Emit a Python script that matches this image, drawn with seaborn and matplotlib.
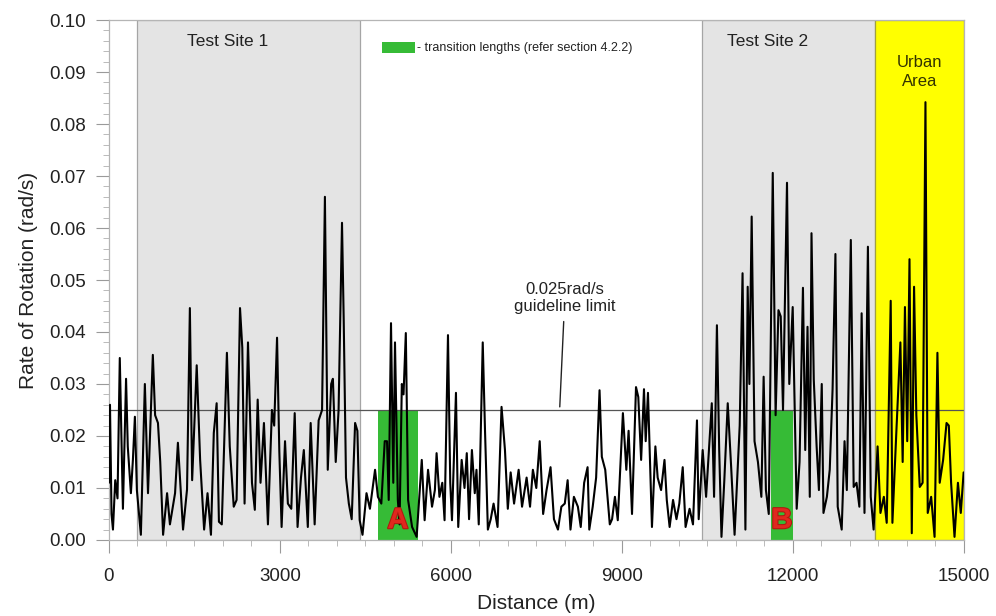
import matplotlib
matplotlib.use("Agg")
import matplotlib.pyplot as plt
import seaborn as sns
import pandas as pd
from matplotlib.patches import Rectangle
from matplotlib.ticker import MultipleLocator, FormatStrFormatter
import matplotlib.patheffects as pe

# ---------------- data ----------------
distance = [0, 18, 45, 70, 110, 150, 190, 245, 300, 330, 385, 420, 455, 490, 560, 630, 685, 770, 810, 860,
            900, 950, 1020, 1070, 1160, 1210, 1300, 1370, 1420, 1460, 1540, 1600, 1670, 1730, 1790, 1840, 1890, 1930, 1980, 2070,
            2120, 2190, 2240, 2300, 2340, 2380, 2440, 2510, 2560, 2610, 2660, 2720, 2790, 2860, 2900, 2950, 2990, 3030, 3090, 3140,
            3200, 3260, 3310, 3370, 3420, 3490, 3540, 3610, 3680, 3740, 3790, 3840, 3900, 3930, 3980, 4030, 4090, 4120, 4160, 4210,
            4260, 4320, 4360, 4400, 4450, 4520, 4580, 4670, 4720, 4780, 4840, 4880, 4910, 4950, 4990, 5020, 5070, 5100, 5140, 5170,
            5210, 5250, 5320, 5400, 5490, 5540, 5600, 5670, 5720, 5750, 5800, 5850, 5890, 5950, 5990, 6020, 6090, 6130, 6190, 6240,
            6280, 6320, 6370, 6420, 6450, 6490, 6560, 6600, 6650, 6700, 6750, 6820, 6890, 6950, 7000, 7050, 7110, 7190, 7250, 7330,
            7390, 7440, 7500, 7560, 7620, 7680, 7750, 7810, 7880, 7940, 8000, 8050, 8100, 8160, 8230, 8280, 8340, 8400, 8430, 8490,
            8550, 8610, 8650, 8710, 8790, 8830, 8880, 8930, 9020, 9080, 9120, 9180, 9250, 9290, 9340, 9390, 9420, 9460, 9530, 9590,
            9630, 9690, 9750, 9790, 9840, 9900, 9960, 10010, 10070, 10120, 10190, 10250, 10320, 10350, 10420, 10480, 10580, 10620, 10670, 10710,
            10750, 10800, 10860, 10920, 10980, 11070, 11120, 11170, 11210, 11240, 11280, 11330, 11390, 11450, 11490, 11530, 11580, 11650, 11700, 11750,
            11790, 11830, 11900, 11940, 12000, 12070, 12120, 12180, 12220, 12260, 12300, 12330, 12370, 12420, 12460, 12510, 12540, 12600, 12650, 12700,
            12750, 12790, 12860, 12910, 12950, 13020, 13070, 13120, 13170, 13210, 13260, 13320, 13370, 13420, 13490, 13540, 13600, 13650, 13720, 13750,
            13820, 13890, 13930, 13970, 14010, 14050, 14090, 14130, 14170, 14230, 14280, 14330, 14370, 14430, 14490, 14540, 14580, 14640, 14700, 14740,
            14780, 14840, 14900, 14950, 15000]
rate = [0.011, 0.026, 0.005, 0.002, 0.0115, 0.008, 0.035, 0.006, 0.031, 0.018, 0.009, 0.0154, 0.0237, 0.0096, 0.001, 0.030, 0.009, 0.0356, 0.024, 0.0225,
        0.015, 0.001, 0.009, 0.003, 0.009, 0.0187, 0.002, 0.0097, 0.0446, 0.0115, 0.0336, 0.0154, 0.002, 0.009, 0.001, 0.0206, 0.0263, 0.0035, 0.003, 0.036,
        0.018, 0.0064, 0.0077, 0.0446, 0.037, 0.007, 0.038, 0.011, 0.0058, 0.027, 0.011, 0.0225, 0.003, 0.025, 0.022, 0.0389, 0.017, 0.0025, 0.019, 0.007,
        0.006, 0.0244, 0.0025, 0.012, 0.0173, 0.0025, 0.0225, 0.003, 0.023, 0.025, 0.066, 0.0135, 0.030, 0.031, 0.015, 0.025, 0.061, 0.0423, 0.012, 0.007,
        0.004, 0.0225, 0.021, 0.0038, 0.001, 0.009, 0.006, 0.0135, 0.0083, 0.007, 0.019, 0.019, 0.0077, 0.0417, 0.011, 0.038, 0.0077, 0.003, 0.030, 0.028,
        0.0398, 0.0077, 0.0025, 0.0006, 0.0154, 0.0038, 0.0135, 0.0064, 0.0096, 0.0167, 0.0083, 0.011, 0.0038, 0.0394, 0.011, 0.0038, 0.0283, 0.0025, 0.0154, 0.010,
        0.0167, 0.004, 0.0173, 0.009, 0.0135, 0.003, 0.038, 0.021, 0.002, 0.004, 0.007, 0.0025, 0.0256, 0.0173, 0.006, 0.013, 0.007, 0.0135, 0.0064, 0.012,
        0.0064, 0.0135, 0.010, 0.019, 0.005, 0.0096, 0.014, 0.004, 0.002, 0.0064, 0.007, 0.0115, 0.002, 0.0083, 0.0064, 0.0025, 0.011, 0.014, 0.002, 0.0064,
        0.012, 0.0288, 0.016, 0.0135, 0.003, 0.004, 0.0083, 0.0038, 0.0244, 0.0135, 0.021, 0.005, 0.0294, 0.0275, 0.0154, 0.029, 0.019, 0.0283, 0.0025, 0.018,
        0.012, 0.0096, 0.0154, 0.0077, 0.0025, 0.0077, 0.004, 0.007, 0.014, 0.0025, 0.006, 0.003, 0.023, 0.004, 0.0173, 0.0083, 0.0263, 0.0083, 0.0413, 0.0173,
        0.0006, 0.0115, 0.0263, 0.014, 0.001, 0.022, 0.0513, 0.002, 0.0487, 0.030, 0.0622, 0.019, 0.015, 0.0083, 0.0314, 0.0096, 0.005, 0.0706, 0.024, 0.0442,
        0.043, 0.025, 0.0687, 0.030, 0.0448, 0.006, 0.015, 0.0485, 0.0173, 0.041, 0.0083, 0.059, 0.0308, 0.018, 0.0096, 0.030, 0.0052, 0.0083, 0.0135, 0.029,
        0.055, 0.0064, 0.002, 0.019, 0.0096, 0.0577, 0.0102, 0.011, 0.0064, 0.0436, 0.0052, 0.0564, 0.0083, 0.002, 0.018, 0.0052, 0.0083, 0.0033, 0.046, 0.0033,
        0.021, 0.038, 0.015, 0.0448, 0.019, 0.054, 0.0013, 0.0487, 0.024, 0.0102, 0.011, 0.0842, 0.0052, 0.0083, 0.0006, 0.036, 0.011, 0.0154, 0.0225, 0.022,
        0.011, 0.0006, 0.011, 0.0052, 0.013]

site_names = ["Test Site 1", "Test Site 2"]
site_start = [500, 10400]
site_end = [4400, 13450]
urban_name = "Urban\nArea"
urban_start = 13450
urban_end = 15000
transition_names = ["A", "B"]
transition_start = [4720, 11620]
transition_end = [5420, 12000]
guideline = 0.025
x_ticks = [0, 3000, 6000, 9000, 12000, 15000]

# ---------------- plot ----------------
sns.set_style("ticks")
plt.rcParams['font.family'] = ['Liberation Sans', 'DejaVu Sans']

fig = plt.figure(figsize=(9.96, 6.16), dpi=100)
ax = fig.add_axes([0.1094, 0.1234, 0.8581, 0.8441])

for s, e in zip(site_start, site_end):
    ax.axvspan(s, e, facecolor='#e4e4e4', edgecolor='#a5a5a5', lw=0.9, zorder=0)
ax.axvspan(urban_start, urban_end, facecolor='#ffff00', edgecolor='#a0a040', lw=0.9, zorder=0)
for s, e in zip(transition_start, transition_end):
    ax.fill_between([s, e], 0, guideline, color='#36bb36', lw=0, zorder=1)

ax.axhline(guideline, color='#555555', lw=0.9, zorder=2)

df = pd.DataFrame({"distance": distance, "rate": rate})
sns.lineplot(data=df, x="distance", y="rate", ax=ax, color='#000000', lw=1.5,
             estimator=None, zorder=3)

ax.set_xlim(0, 15000)
ax.set_ylim(0, 0.10)
ax.set_xticks(x_ticks)
ax.xaxis.set_minor_locator(MultipleLocator(500))
ax.yaxis.set_major_locator(MultipleLocator(0.01))
ax.yaxis.set_minor_locator(MultipleLocator(0.002))
ax.yaxis.set_major_formatter(FormatStrFormatter('%.2f'))

ax.tick_params(axis='both', which='major', direction='out', color='#9a9a9a',
               labelcolor='#222222', labelsize=13.5)
ax.tick_params(axis='x', which='major', length=9.5, pad=11)
ax.tick_params(axis='y', which='major', length=9.5, pad=7)
ax.tick_params(axis='both', which='minor', direction='out', color='#b0b0b0', length=4)

for sp in ax.spines.values():
    sp.set_color('#b5b5b5')
    sp.set_linewidth(0.9)
    sp.set_visible(True)

ax.set_xlabel("Distance (m)", fontsize=15, color='#222222', labelpad=6)
ax.set_ylabel("Rate of Rotation (rad/s)", fontsize=15, color='#222222', labelpad=8)

# region labels
for name, s, e in zip(site_names, site_start, site_end):
    ax.text((s + e) / 2 - 360, 0.0958, name, ha='center', va='center', fontsize=12.5, color='#222222')
ax.text((urban_start + urban_end) / 2, 0.0900, urban_name, ha='center', va='center',
        fontsize=12, color='#333300', linespacing=1.3)

# transition labels
for name, s, e in zip(transition_names, transition_start, transition_end):
    ax.text((s + e) / 2, 0.0038, name, ha='center', va='center',
            fontsize=21, fontweight='bold', color='#e0281e', zorder=4,
            path_effects=[pe.withStroke(linewidth=1.5, foreground='#b01810')])

# legend-like key
ax.add_patch(Rectangle((4790, 0.0937), 580, 0.0021, facecolor='#36bb36', edgecolor='none', zorder=4))
ax.text(5400, 0.0947, "- transition lengths (refer section 4.2.2)", ha='left', va='center',
        fontsize=9, color='#222222')

# guideline annotation
ax.annotate("0.025rad/s\nguideline limit", xy=(7912, guideline + 0.0006), xytext=(8000, 0.0465),
            ha='center', va='center', fontsize=12, color='#222222', linespacing=1.15,
            arrowprops=dict(arrowstyle='-', color='#222222', lw=1.0, shrinkA=3, shrinkB=0))

fig.savefig("out.png", dpi=100)
